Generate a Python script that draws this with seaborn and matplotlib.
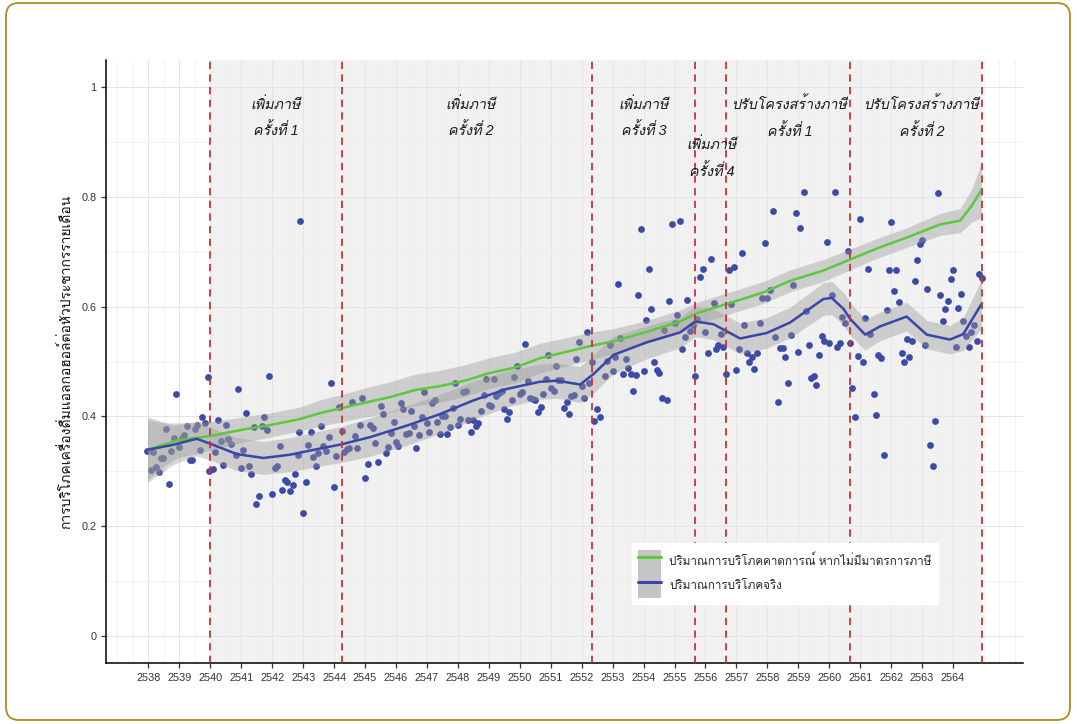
import matplotlib
matplotlib.use("Agg")
import matplotlib.pyplot as plt
from matplotlib import font_manager
from matplotlib.ft2font import FT2Font
from matplotlib.patches import FancyBboxPatch, Patch
from matplotlib.lines import Line2D
from matplotlib.ticker import MultipleLocator
import numpy as np
import seaborn as sns

# monthly scatter points (year BE, consumption)
pts_x = [2537.97, 2538.08, 2538.14, 2538.25, 2538.34, 2538.40, 2538.48, 2538.57, 2538.67, 2538.74,
         2538.83, 2538.90, 2538.99, 2539.09, 2539.16, 2539.24, 2539.33, 2539.41, 2539.50, 2539.57,
         2539.66, 2539.74, 2539.83, 2539.91, 2539.96, 2540.08, 2540.16, 2540.24, 2540.33, 2540.41,
         2540.50, 2540.58, 2540.66, 2540.82, 2540.91, 2540.99, 2541.07, 2541.16, 2541.24, 2541.33,
         2541.41, 2541.49, 2541.58, 2541.66, 2541.75, 2541.83, 2541.91, 2542.00, 2542.08, 2542.16,
         2542.25, 2542.33, 2542.41, 2542.49, 2542.58, 2542.66, 2542.74, 2542.83, 2542.87, 2542.91,
         2543.00, 2543.08, 2543.16, 2543.25, 2543.32, 2543.41, 2543.49, 2543.58, 2543.65, 2543.74,
         2543.83, 2543.90, 2543.99, 2544.07, 2544.16, 2544.25, 2544.32, 2544.41, 2544.48, 2544.57,
         2544.66, 2544.74, 2544.83, 2544.90, 2544.99, 2545.08,
         2545.16, 2545.25, 2545.33, 2545.41, 2545.50, 2545.58, 2545.67, 2545.75, 2545.83, 2545.92,
         2545.99, 2546.08, 2546.16, 2546.24, 2546.33, 2546.41, 2546.50, 2546.57, 2546.66, 2546.75,
         2546.83, 2546.92, 2546.99, 2547.08, 2547.16, 2547.25, 2547.34, 2547.41, 2547.50, 2547.59,
         2547.66, 2547.75, 2547.84, 2547.92, 2547.99, 2548.08, 2548.17, 2548.26, 2548.34, 2548.42,
         2548.50, 2548.59, 2548.66, 2548.75, 2548.84, 2548.91, 2549.00, 2549.08, 2549.16, 2549.24,
         2549.33, 2549.42, 2549.50, 2549.58, 2549.66, 2549.75, 2549.82, 2549.91, 2550.00, 2550.08,
         2550.16, 2550.25, 2550.33, 2550.42, 2550.50, 2550.58, 2550.67, 2550.75, 2550.84, 2550.91,
         2551.00, 2551.09, 2551.17, 2551.25, 2551.33, 2551.42, 2551.51, 2551.58, 2551.67, 2551.74,
         2551.83, 2551.92, 2552.00, 2552.08, 2552.16, 2552.25, 2552.33, 2552.41, 2552.50,
         2552.58, 2552.75, 2552.83, 2552.92, 2553.00, 2553.08, 2553.17, 2553.25, 2553.34, 2553.42,
         2553.50, 2553.59, 2553.67, 2553.76, 2553.83, 2553.92, 2554.00, 2554.09, 2554.17, 2554.25,
         2554.34, 2554.43, 2554.50, 2554.59, 2554.66, 2554.75, 2554.83, 2554.92, 2555.00, 2555.08,
         2555.17, 2555.25, 2555.33, 2555.41, 2555.50, 2555.59, 2555.66, 2555.74, 2555.82, 2555.91,
         2556.00, 2556.08, 2556.17, 2556.26, 2556.33, 2556.42, 2556.50, 2556.58, 2556.67, 2556.75,
         2556.84, 2556.91, 2557.00, 2557.08, 2557.17, 2557.24, 2557.33, 2557.42, 2557.49, 2557.58,
         2557.67, 2557.75, 2557.84, 2557.93, 2558.00, 2558.08, 2558.17, 2558.26, 2558.35, 2558.42,
         2558.50, 2558.58, 2558.67, 2558.76, 2558.84, 2558.93, 2558.99, 2559.06,
         2559.18, 2559.25, 2559.34, 2559.42, 2559.50, 2559.58, 2559.67, 2559.76, 2559.83, 2559.92,
         2560.00, 2560.09, 2560.17, 2560.25, 2560.34, 2560.42, 2560.50, 2560.59, 2560.67, 2560.75,
         2560.83, 2560.92, 2560.99, 2561.08, 2561.17, 2561.25, 2561.33, 2561.43, 2561.51, 2561.58,
         2561.66, 2561.76, 2561.85, 2561.92, 2562.00, 2562.08, 2562.16, 2562.25, 2562.34, 2562.42,
         2562.50, 2562.59, 2562.67, 2562.76, 2562.83, 2562.92, 2563.00, 2563.08, 2563.17, 2563.25,
         2563.34, 2563.42, 2563.50, 2563.59, 2563.68, 2563.75, 2563.84, 2563.92, 2564.01, 2564.08,
         2564.17, 2564.26, 2564.33, 2564.42, 2564.50, 2564.59, 2564.67, 2564.76, 2564.83, 2564.92]
pts_y = [0.337, 0.302, 0.334, 0.307, 0.298, 0.324, 0.324, 0.376, 0.277, 0.336,
         0.360, 0.441, 0.344, 0.360, 0.366, 0.382, 0.321, 0.320, 0.377, 0.385,
         0.339, 0.398, 0.387, 0.471, 0.300, 0.304, 0.334, 0.393, 0.355, 0.312,
         0.384, 0.359, 0.349, 0.330, 0.449, 0.306, 0.339, 0.406, 0.309, 0.295,
         0.381, 0.240, 0.255, 0.382, 0.398, 0.375, 0.473, 0.258, 0.305, 0.310,
         0.345, 0.265, 0.283, 0.280, 0.263, 0.275, 0.294, 0.329, 0.372, 0.757,
         0.224, 0.280, 0.348, 0.372, 0.326, 0.309, 0.333, 0.383, 0.345, 0.336,
         0.362, 0.461, 0.271, 0.327, 0.417, 0.374, 0.334, 0.340, 0.342, 0.426,
         0.365, 0.343, 0.384, 0.433, 0.287, 0.313,
         0.384, 0.379, 0.351, 0.317, 0.419, 0.404, 0.333, 0.344, 0.370, 0.390,
         0.354, 0.345, 0.425, 0.413, 0.368, 0.369, 0.409, 0.382, 0.342, 0.366,
         0.398, 0.445, 0.388, 0.372, 0.424, 0.429, 0.390, 0.368, 0.400, 0.401,
         0.368, 0.381, 0.415, 0.461, 0.385, 0.396, 0.445, 0.446, 0.393, 0.371,
         0.393, 0.382, 0.388, 0.410, 0.438, 0.468, 0.421, 0.418, 0.468, 0.437,
         0.443, 0.446, 0.413, 0.396, 0.407, 0.429, 0.472, 0.491, 0.441, 0.444,
         0.532, 0.465, 0.433, 0.432, 0.429, 0.407, 0.417, 0.440, 0.468, 0.512,
         0.452, 0.446, 0.492, 0.467, 0.467, 0.415, 0.427, 0.404, 0.437, 0.438,
         0.505, 0.535, 0.455, 0.433, 0.554, 0.460, 0.500, 0.392, 0.413,
         0.398, 0.473, 0.501, 0.531, 0.482, 0.509, 0.641, 0.542, 0.477, 0.504,
         0.488, 0.477, 0.446, 0.475, 0.621, 0.741, 0.482, 0.575, 0.668, 0.596,
         0.499, 0.485, 0.479, 0.433, 0.557, 0.429, 0.610, 0.751, 0.570, 0.584,
         0.756, 0.523, 0.544, 0.613, 0.556, 0.567, 0.473, 0.577, 0.655, 0.669,
         0.554, 0.516, 0.687, 0.606, 0.523, 0.531, 0.551, 0.527, 0.477, 0.667,
         0.604, 0.672, 0.485, 0.523, 0.698, 0.566, 0.515, 0.500, 0.508, 0.486,
         0.516, 0.571, 0.616, 0.717, 0.616, 0.630, 0.775, 0.545, 0.427, 0.524,
         0.524, 0.509, 0.460, 0.548, 0.639, 0.770, 0.517, 0.743,
         0.809, 0.593, 0.530, 0.470, 0.473, 0.457, 0.511, 0.547, 0.538, 0.718,
         0.534, 0.621, 0.810, 0.526, 0.534, 0.581, 0.571, 0.702, 0.534, 0.451,
         0.399, 0.510, 0.760, 0.499, 0.579, 0.668, 0.550, 0.440, 0.403, 0.511,
         0.506, 0.330, 0.594, 0.667, 0.754, 0.629, 0.667, 0.608, 0.516, 0.500,
         0.541, 0.509, 0.537, 0.646, 0.686, 0.714, 0.722, 0.531, 0.632, 0.348,
         0.310, 0.392, 0.807, 0.622, 0.574, 0.596, 0.610, 0.651, 0.667, 0.527,
         0.598, 0.623, 0.574, 0.547, 0.527, 0.554, 0.567, 0.538, 0.659, 0.653]

# expected consumption without tax measures (green) + ribbon half width
exp_x = [2537.97, 2538.48, 2538.92, 2540.0, 2541.07, 2541.93, 2542.9, 2543.55, 2544.25, 2545.08,
         2545.81, 2546.62, 2547.42, 2548.23, 2549.03, 2549.85, 2550.65, 2551.46, 2552.26, 2553.03,
         2554.1, 2555.18, 2555.72, 2556.69, 2557.87, 2558.73, 2559.81, 2560.67, 2561.53, 2562.5,
         2563.58, 2564.23, 2564.6, 2564.92]
exp_y = [0.339, 0.348, 0.356, 0.364, 0.376, 0.384, 0.395, 0.406, 0.415, 0.426,
         0.435, 0.448, 0.455, 0.465, 0.479, 0.489, 0.506, 0.517, 0.528, 0.537,
         0.554, 0.573, 0.588, 0.605, 0.626, 0.647, 0.666, 0.686, 0.706, 0.726,
         0.750, 0.757, 0.784, 0.813]
exp_se = [0.055, 0.040, 0.032, 0.026, 0.023, 0.022, 0.022, 0.024, 0.025, 0.027,
          0.028, 0.029, 0.029, 0.029, 0.028, 0.028, 0.027, 0.026, 0.025, 0.023,
          0.021, 0.021, 0.020, 0.020, 0.020, 0.020, 0.020, 0.019, 0.018, 0.018,
          0.020, 0.022, 0.030, 0.050]

# actual consumption (blue) + ribbon half width
act_x = [2537.97, 2538.8, 2539.56, 2540.0, 2540.86, 2541.72, 2542.58, 2543.44, 2544.25, 2545.16,
         2546.35, 2547.42, 2548.5, 2549.58, 2550.65, 2551.2, 2551.95, 2552.38, 2553.03, 2554.1,
         2555.18, 2555.67, 2556.26, 2557.12, 2557.98, 2558.73, 2559.81, 2560.08, 2560.46, 2560.67,
         2561.16, 2561.64, 2562.5, 2563.15, 2563.9, 2564.33, 2564.92]
act_y = [0.339, 0.348, 0.359, 0.350, 0.331, 0.324, 0.330, 0.340, 0.349, 0.362,
         0.383, 0.404, 0.429, 0.450, 0.463, 0.465, 0.458, 0.477, 0.512, 0.535,
         0.553, 0.573, 0.568, 0.542, 0.552, 0.571, 0.614, 0.616, 0.596, 0.578,
         0.549, 0.564, 0.582, 0.549, 0.540, 0.550, 0.605]
act_se = [0.060, 0.036, 0.031, 0.030, 0.030, 0.030, 0.031, 0.032, 0.033, 0.035,
          0.036, 0.036, 0.035, 0.033, 0.032, 0.032, 0.033, 0.035, 0.034, 0.030,
          0.028, 0.028, 0.028, 0.028, 0.028, 0.028, 0.030, 0.030, 0.030, 0.030,
          0.028, 0.026, 0.026, 0.026, 0.026, 0.030, 0.045]

# tax event markers
event_x = [2540.0, 2544.25, 2552.33, 2555.67, 2556.67, 2560.67, 2564.92]
label_text = ["เพิ่มภาษี\nครั้งที่ 1", "เพิ่มภาษี\nครั้งที่ 2", "เพิ่มภาษี\nครั้งที่ 3",
              "เพิ่มภาษี\nครั้งที่ 4", "ปรับโครงสร้างภาษี\nครั้งที่ 1", "ปรับโครงสร้างภาษี\nครั้งที่ 2"]
label_x = [2542.1, 2548.4, 2554.0, 2556.2, 2558.73, 2563.0]
label_y = [0.945, 0.945, 0.945, 0.872, 0.945, 0.945]

years = list(range(2538, 2565))
legend_labels = ["ปริมาณการบริโภคคาดการณ์ หากไม่มีมาตรการภาษี", "ปริมาณการบริโภคจริง"]
ylabel = "การบริโภคเครื่องดื่มแอลกอฮอล์ต่อหัวประชากรรายเดือน"

GREEN = "#5cc83c"
BLUE = "#3a46a6"
DOT = "#3d4aa6"
RED = "#cc3333"


def find_thai_font():
    for f in font_manager.fontManager.ttflist:
        try:
            if 0x0E01 in FT2Font(f.fname).get_charmap():
                return f.name
        except Exception:
            pass
    return None


sns.set_theme(style="white")
thai = find_thai_font()
fams = ["Liberation Sans"] + ([thai] if thai else []) + ["DejaVu Sans"]
plt.rcParams["font.family"] = fams

fig = plt.figure(figsize=(10.77, 7.24), dpi=100)
fig.patch.set_facecolor("white")
border = FancyBboxPatch((0.06, 0.04), 10.64, 7.17, boxstyle="round,pad=0,rounding_size=0.13",
                        transform=fig.dpi_scale_trans, fc="none", ec="#b08a22", lw=1.3, zorder=10)
fig.patches.append(border)

ax = fig.add_axes([106 / 1077, 61 / 724, 917 / 1077, 603 / 724])
ax.set_facecolor("none")
ax.set_xlim(2536.63, 2566.26)
ax.set_ylim(-0.05, 1.05)

# grid
ax.xaxis.set_major_locator(MultipleLocator(1))
ax.xaxis.set_minor_locator(MultipleLocator(0.5))
ax.yaxis.set_major_locator(MultipleLocator(0.2))
ax.yaxis.set_minor_locator(MultipleLocator(0.1))
ax.set_xticks(years)
ax.grid(which="major", color="#e4e4e4", lw=0.7, zorder=0)
ax.grid(which="minor", color="#eeeeee", lw=0.5, zorder=0)
ax.set_axisbelow(True)

# shaded tax period
ax.axvspan(event_x[0], event_x[-1], color="#d9d9d9", alpha=0.35, lw=0, zorder=0.5)

sns.scatterplot(x=pts_x, y=pts_y, ax=ax, color=DOT, s=24, linewidth=0, zorder=2)

ax.fill_between(exp_x, np.array(exp_y) - np.array(exp_se), np.array(exp_y) + np.array(exp_se),
                color="#999999", alpha=0.4, lw=0, zorder=3)
ax.fill_between(act_x, np.array(act_y) - np.array(act_se), np.array(act_y) + np.array(act_se),
                color="#999999", alpha=0.4, lw=0, zorder=3)
sns.lineplot(x=exp_x, y=exp_y, ax=ax, color=GREEN, lw=1.8, zorder=4)
sns.lineplot(x=act_x, y=act_y, ax=ax, color=BLUE, lw=1.8, zorder=4)

for xv in event_x:
    ax.axvline(xv, color=RED, lw=1.3, ls=(0, (4, 3)), zorder=5)

for t, xv, yv in zip(label_text, label_x, label_y):
    ax.text(xv, yv, t, ha="center", va="center", fontsize=10.3, style="italic",
            color="#1a1a1a", linespacing=1.85, zorder=6)

# axes styling
for s in ["top", "right"]:
    ax.spines[s].set_visible(False)
for s in ["left", "bottom"]:
    ax.spines[s].set_color("black")
    ax.spines[s].set_linewidth(1.1)
ax.tick_params(axis="both", which="major", length=3.5, width=0.9, color="#333333",
               labelsize=7.8, labelcolor="#333333", bottom=True, left=True)
ax.tick_params(axis="both", which="minor", length=0)
ax.set_yticks([0, 0.2, 0.4, 0.6, 0.8, 1.0])
ax.set_yticklabels(["0", "0.2", "0.4", "0.6", "0.8", "1"])
ax.set_ylabel(ylabel, fontsize=10, color="#111111", labelpad=6)
ax.set_xlabel("")

handles = [(Patch(fc="#c4c4c4", ec="none"), Line2D([], [], color=GREEN, lw=2.2)),
           (Patch(fc="#c4c4c4", ec="none"), Line2D([], [], color=BLUE, lw=2.2))]
leg = ax.legend(handles, legend_labels, loc="upper left", bbox_to_anchor=(0.5733, 0.1985),
                borderaxespad=0, fontsize=8.4, frameon=True, fancybox=False, framealpha=1,
                edgecolor="white", facecolor="white", handlelength=1.95, handleheight=2.8,
                labelspacing=0, handletextpad=0.7, borderpad=0.55)
leg.set_zorder(7)

fig.savefig("out.png", dpi=100)
